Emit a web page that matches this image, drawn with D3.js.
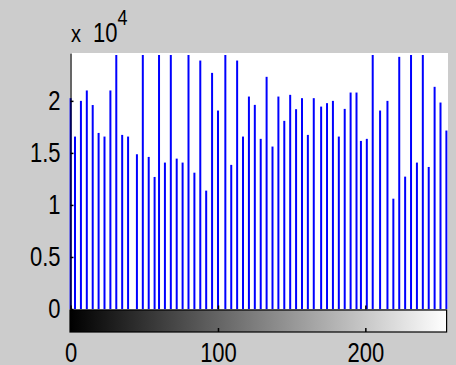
<!DOCTYPE html>
<html><head><meta charset="utf-8">
<script src="https://cdn.jsdelivr.net/npm/d3@7"></script>
<style>
html,body{margin:0;padding:0;background:#cccccc;}
svg{display:block;}
text{font-family:"Liberation Sans",Arial,sans-serif;fill:#000;}
</style></head>
<body>
<script>
// Data: gray-level bins and their counts (clipped ones exceed the axis top)
const bins = [0,3,7,11,15,19,23,27,31,35,39,45,49,53,57,60,64,68,72,76,80,84,88,92,96,100,105,109,113,117,121,125,129,133,137,141,145,149,153,157,161,165,170,174,178,182,186,190,194,197,201,205,210,215,219,223,227,231,235,239,243,247,251,255];
const counts = [20260,16570,20000,21000,19600,16920,16570,21000,30000,16730,16570,14870,30000,14615,12690,30000,14070,30000,14450,14070,30000,13100,23875,11375,22690,19070,30000,13850,23875,16570,20415,19615,16350,22310,15610,20415,18080,20580,19200,20260,16730,20260,19450,19780,20000,16570,19230,20800,20800,16150,16350,30000,19070,20000,10600,24230,12720,30000,14070,30000,13650,21350,19840,17150];
const yTicks = [0,5000,10000,15000,20000];
const yTickLabels = ["0","0.5","1","1.5","2"];
const xTicks = [0,100,200];
const xTickLabels = ["0","100","200"];

const W = 456, H = 365;
const svg = d3.select("body").append("svg").attr("width",W).attr("height",H);
svg.append("rect").attr("width",W).attr("height",H).attr("fill","#cccccc");

const x = d3.scaleLinear().domain([0,255]).range([70.6,446.4]);
const y = d3.scaleLinear().domain([0,24600]).range([309,53]);

// plot area
svg.append("rect").attr("x",70).attr("y",53).attr("width",378).attr("height",256).attr("fill","#fff");

svg.append("defs").append("clipPath").attr("id","clip")
  .append("rect").attr("x",60).attr("y",55).attr("width",390).attr("height",260);

// stems
svg.append("g").attr("clip-path","url(#clip)")
  .selectAll("line").data(bins).join("line")
  .attr("x1",d=>x(d)).attr("x2",d=>x(d))
  .attr("y1",y(0)).attr("y2",(d,i)=>y(counts[i]))
  .attr("stroke","#0000ff").attr("stroke-width",2);

// left axis
const ya = svg.append("g").attr("transform","translate(70.5,0)")
  .call(d3.axisLeft(y).tickValues(yTicks).tickFormat((d,i)=>yTickLabels[i]).tickSizeInner(-3).tickSizeOuter(0).tickPadding(10));
ya.select(".domain").attr("stroke","#000").attr("stroke-width",1.2);
ya.selectAll(".tick line").attr("stroke","#000").attr("stroke-width",1.5);
ya.selectAll(".tick text").attr("font-size",22).attr("font-family","Liberation Sans, Arial, sans-serif")
  .attr("fill","#222").attr("dy","0.32em").attr("transform","scale(1,1.22)")
  .attr("x",-10);

// exponent label
const ex = svg.append("text").attr("font-size",22).attr("fill","#222").attr("transform","translate(71,41.5) scale(1,1.22)");
ex.append("tspan").attr("font-size",20).text("x ");
ex.append("tspan").attr("x",22).text("10");
svg.append("text").attr("font-size",18).attr("fill","#222").attr("transform","translate(117.5,25) scale(1,1.22)").text("4");

// colorbar
const grad = svg.append("defs").append("linearGradient").attr("id","gray").attr("x1","0").attr("x2","1");
grad.append("stop").attr("offset","0").attr("stop-color","#000");
grad.append("stop").attr("offset","1").attr("stop-color","#fff");
svg.append("rect").attr("x",x(0)-0.6).attr("y",310).attr("width",x(255)-x(0)+0.8).attr("height",22)
  .attr("fill","url(#gray)").attr("stroke","#000").attr("stroke-width",1.2);

// x-axis ticks at the stem baseline
const xt = svg.append("g").attr("transform","translate(0,309.5)")
  .call(d3.axisBottom(x).tickValues(xTicks).tickFormat("").tickSizeInner(-4).tickSizeOuter(0));
xt.select(".domain").remove();
xt.selectAll(".tick line").attr("stroke","#000").attr("stroke-width",1.5);

// colorbar axis with labels
const xa = svg.append("g").attr("transform","translate(0,332)")
  .call(d3.axisBottom(x).tickValues(xTicks).tickFormat((d,i)=>xTickLabels[i]).tickSizeInner(-4).tickSizeOuter(0));
xa.select(".domain").remove();
xa.selectAll(".tick line").attr("stroke","#000").attr("stroke-width",1.5);
xa.selectAll(".tick text").attr("font-size",22).attr("font-family","Liberation Sans, Arial, sans-serif")
  .attr("fill","#222").attr("y",0).attr("dy",0).attr("transform","translate(0,30) scale(1,1.22)");
</script>
</body></html>
